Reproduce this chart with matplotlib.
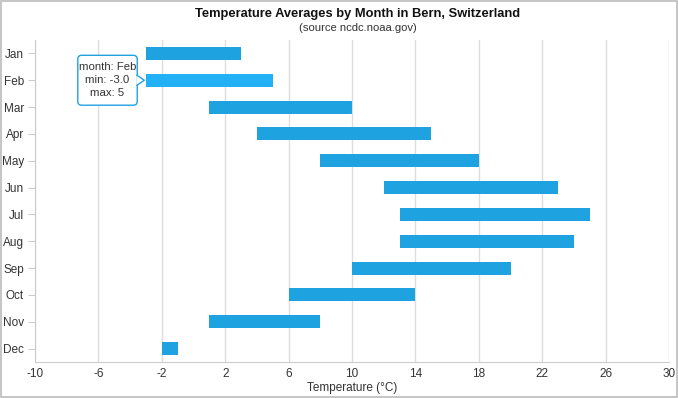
import matplotlib.pyplot as plt
from matplotlib.patches import FancyBboxPatch, Polygon

plt.rcParams['font.family'] = ['Liberation Sans', 'DejaVu Sans']
plt.rcParams['axes.unicode_minus'] = False

months = ['Jan', 'Feb', 'Mar', 'Apr', 'May', 'Jun',
          'Jul', 'Aug', 'Sep', 'Oct', 'Nov', 'Dec']
t_min = [-3, -3, 1, 4, 8, 12, 13, 13, 10, 6, 1, -2]
t_max = [3, 5, 10, 15, 18, 23, 25, 24, 20, 14, 8, -1]
x_ticks = list(range(-10, 31, 4))

BAR = '#1fa2e0'
HOVER = '#22b1f5'
GREY = '#cccccc'

fig = plt.figure(figsize=(6.78, 3.98), dpi=100)
ax = fig.add_axes([35 / 678, 36 / 398, 634 / 678, 322 / 398])

ypos = list(range(len(months)))
colors = [HOVER if m == 'Feb' else BAR for m in months]
widths = [b - a for a, b in zip(t_min, t_max)]
ax.barh(ypos, widths, left=t_min, height=0.48, color=colors, zorder=3)

ax.set_xlim(-10, 30)
ax.set_ylim(len(months) - 0.5, -0.5)
ax.set_xticks(x_ticks)
ax.set_yticks(ypos)
ax.set_yticklabels(months)
ax.grid(axis='x', color='#dddddd', linewidth=1, zorder=0)
for s in ['top', 'right']:
    ax.spines[s].set_visible(False)
for s in ['left', 'bottom']:
    ax.spines[s].set_color(GREY)
ax.tick_params(axis='y', length=5, color=GREY, labelsize=8.5, labelcolor='#333333', pad=3)
ax.tick_params(axis='x', length=0, labelsize=8.5, labelcolor='#333333', pad=4)
ax.set_xlabel('Temperature (°C)', fontsize=8.5, color='#333333', labelpad=2)

fig.text(0.528, 0.964, 'Temperature Averages by Month in Bern, Switzerland',
         ha='center', va='center', fontsize=9.3, fontweight='bold', color='#111111')
fig.text(0.528, 0.929, '(source ncdc.noaa.gov)', ha='center', va='center',
         fontsize=8.1, color='#333333')

# tooltip for Feb
i = months.index('Feb')
tip_txt = f'month: {months[i]}\nmin: {t_min[i]:.1f}\nmax: {t_max[i]}'
bx0, bx1 = -7.3, -3.55
box = FancyBboxPatch((bx0, i - 0.93), bx1 - bx0, 1.86,
                     boxstyle='round,pad=0,rounding_size=0.25',
                     mutation_aspect=1 / 1.7,
                     facecolor='white', edgecolor=BAR, linewidth=1, zorder=5)
ax.add_patch(box)
ax.add_patch(Polygon([[bx1 - 0.05, i - 0.2], [t_min[i] - 0.1, i], [bx1 - 0.05, i + 0.2]],
                     closed=False, facecolor='white', edgecolor=BAR,
                     linewidth=1, zorder=6))
ax.text((bx0 + bx1) / 2, i, tip_txt, ha='center', va='center', fontsize=8.2,
        color='#333333', linespacing=1.35, zorder=7)

# outer frame
fig.patches.append(plt.Rectangle((0.002, 0.003), 0.996, 0.994, transform=fig.transFigure,
                                 fill=False, edgecolor='#bbbbbb', linewidth=1.2))

fig.savefig('out.png', dpi=100)
